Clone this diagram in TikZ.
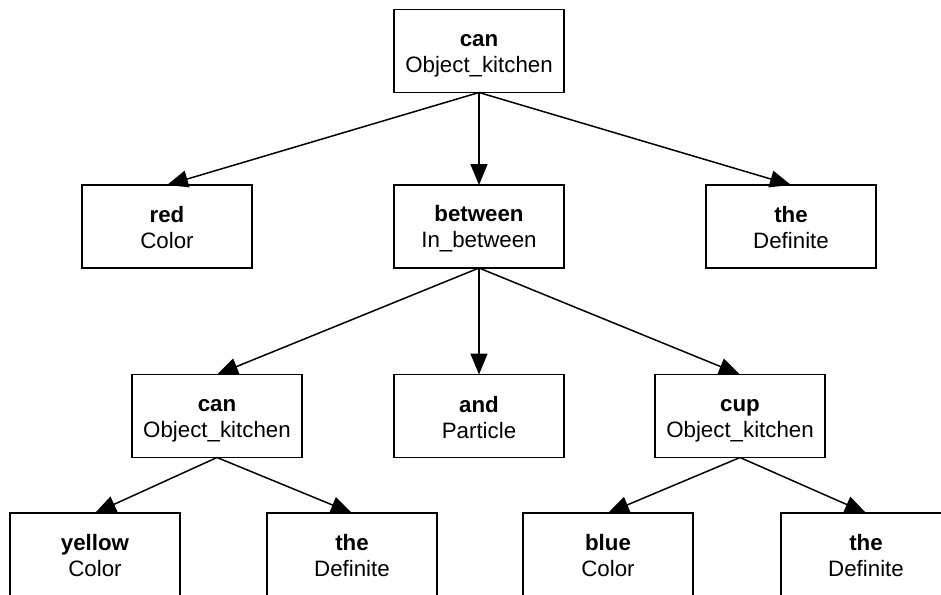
\documentclass[tikz,border=0pt]{standalone}
\usepackage{fontspec}
\setmainfont{Liberation Sans}
\usetikzlibrary{arrows.meta}

% two-line label: bold word over its category
\newcommand{\wordcat}[2]{\rule{0pt}{21pt}\textbf{#1}\\#2\rule[-3pt]{0pt}{3pt}}

\begin{document}
\begin{tikzpicture}[x=1pt,y=-1pt,
  wordbox/.style={draw, line width=1.6pt, rectangle, minimum width=170pt,
    minimum height=83pt, align=center, inner sep=0pt, outer sep=0pt,
    font=\fontsize{22.3}{26}\selectfont},
  arr/.style={line width=1.5pt, -{Triangle[length=21pt,width=17pt]}}]

  \path[use as bounding box] (0,0) rectangle (941,594);

  % root
  \node[wordbox] (root) at (479,51) {\wordcat{can}{Object\_kitchen}};

  % second level
  \node[wordbox] (red)  at (167,226.5) {\wordcat{red}{Color}};
  \node[wordbox] (btw)  at (479,226.5) {\wordcat{between}{In\_between}};
  \node[wordbox] (the1) at (791,226.5) {\wordcat{the}{Definite}};

  % third level
  \node[wordbox] (can2) at (217,416) {\wordcat{can}{Object\_kitchen}};
  \node[wordbox] (and)  at (479,416) {\wordcat{and}{Particle}};
  \node[wordbox] (cup)  at (740,416) {\wordcat{cup}{Object\_kitchen}};

  % fourth level
  \node[wordbox] (yel)  at (95,554.5)  {\wordcat{yellow}{Color}};
  \node[wordbox] (the2) at (352,554.5) {\wordcat{the}{Definite}};
  \node[wordbox] (blue) at (608,554.5) {\wordcat{blue}{Color}};
  \node[wordbox] (the3) at (866,554.5) {\wordcat{the}{Definite}};

  % dependency arrows
  \draw[arr] (root.south) -- (red.north);
  \draw[arr] (root.south) -- (btw.north);
  \draw[arr] (root.south) -- (the1.north);

  \draw[arr] (btw.south) -- (can2.north);
  \draw[arr] (btw.south) -- (and.north);
  \draw[arr] (btw.south) -- (cup.north);

  \draw[arr] (can2.south) -- (yel.north);
  \draw[arr] (can2.south) -- (the2.north);

  \draw[arr] (cup.south) -- (blue.north);
  \draw[arr] (cup.south) -- (the3.north);
\end{tikzpicture}
\end{document}
